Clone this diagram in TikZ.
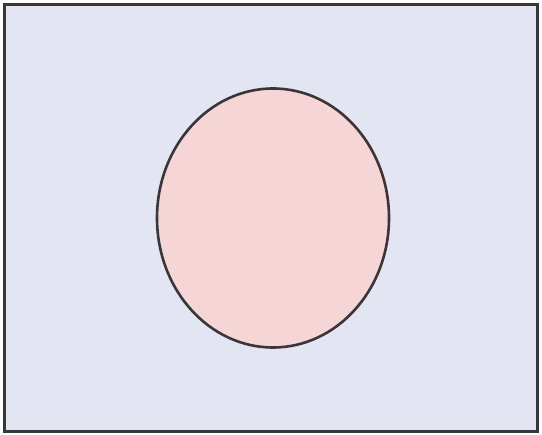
\documentclass[tikz,border=0pt]{standalone}
\usetikzlibrary{shapes.geometric}
\definecolor{bgfill}{HTML}{E4E5F3}
\definecolor{ovfill}{HTML}{F5D5D6}
\definecolor{edge}{HTML}{3A3537}
\tikzset{
  frame/.style={draw=edge, line width=3pt, fill=bgfill},
  blob/.style={ellipse, draw=edge, line width=2.6pt, fill=ovfill, inner sep=0pt}
}
\begin{document}
\begin{tikzpicture}[x=1pt,y=-1pt]
\useasboundingbox (0,0) rectangle (542,435);
\fill[white] (0,0) rectangle (542,435);
\node[frame, minimum width=533pt, minimum height=427pt, inner sep=0pt] (box) at (271,218) {};
\node[blob, minimum width=232pt, minimum height=259pt] (oval) at (273,218) {};
\end{tikzpicture}
\end{document}
